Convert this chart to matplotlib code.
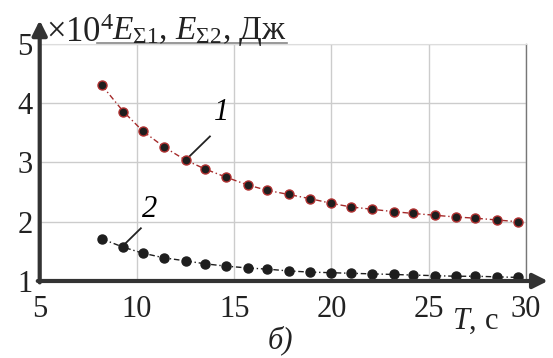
import numpy as np
import matplotlib.pyplot as plt

plt.rcParams['font.family'] = ['Liberation Serif', 'DejaVu Serif']
plt.rcParams['mathtext.fontset'] = 'custom'
plt.rcParams['mathtext.rm'] = 'Liberation Serif'
plt.rcParams['mathtext.it'] = 'Liberation Serif:italic'

# period T, s
T = [8.2, 9.3, 10.3, 11.4, 12.5, 13.5, 14.6, 15.7, 16.7, 17.8, 18.9,
     20.0, 21.0, 22.1, 23.2, 24.2, 25.3, 26.4, 27.4, 28.5, 29.6]
# energy, x 10^4 J
E1 = [4.30, 3.86, 3.53, 3.26, 3.04, 2.89, 2.75, 2.62, 2.53, 2.46, 2.39,
      2.31, 2.25, 2.21, 2.17, 2.14, 2.11, 2.08, 2.06, 2.03, 2.00]
E2 = [1.71, 1.57, 1.47, 1.39, 1.34, 1.29, 1.25, 1.22, 1.20, 1.17, 1.15,
      1.14, 1.13, 1.12, 1.11, 1.10, 1.09, 1.08, 1.08, 1.07, 1.06]
xticks = [5, 10, 15, 20, 25, 30]
yticks = [1, 2, 3, 4, 5]

fs = 22
fig = plt.figure(figsize=(5.53, 3.58), dpi=100)
ax = fig.add_axes([0.0718, 0.2151, 0.8794, 0.662])
ax.set_xlim(5, 30)
ax.set_ylim(1, 5)
ax.set_xticks(xticks)
ax.set_yticks(yticks)
ax.tick_params(length=0, labelsize=fs, colors='#222222')
ax.tick_params(axis='x', pad=10)
ax.tick_params(axis='y', pad=5)
ax.grid(color='#cccccc', lw=1)
ax.set_axisbelow(True)

for s in ['left', 'bottom']:
    ax.spines[s].set_visible(False)
ax.spines['top'].set_color('#dddddd')
ax.spines['right'].set_color('#777777')
ax.spines['right'].set_linewidth(1)

ax.plot(T, E1, color='#a52a2a', lw=1, ls=(0, (4, 2, 1, 2)),
        marker='o', ms=6.5, mfc='#1e1e1e', mec='#b03030', mew=1, zorder=3)
ax.plot(T, E2, color='#1e1e1e', lw=1, ls=(0, (4, 2, 1, 2)),
        marker='o', ms=6.5, mfc='#1e1e1e', mec='#1e1e1e', zorder=3)

# axes with arrows
arr = dict(arrowstyle='-|>', lw=3, color='#333333', mutation_scale=22,
           shrinkA=0, shrinkB=0)
ax.annotate('', xy=(1.045, 0), xytext=(-0.004, 0), xycoords='axes fraction',
            arrowprops=arr, annotation_clip=False)
ax.annotate('', xy=(0, 1.10), xytext=(0, -0.006), xycoords='axes fraction',
            arrowprops=arr, annotation_clip=False)

# curve labels
ax.plot([12.5, 13.75], [3.04, 3.44], color='#222222', lw=1.3)
ax.text(14.35, 3.85, '1', fontsize=fs, style='italic', ha='center', va='center')
ax.plot([9.3, 10.2], [1.60, 1.89], color='#222222', lw=1.3)
ax.text(10.67, 2.2, '2', fontsize=fs, style='italic', ha='center', va='center')

# top label
fig.text(46 / 553, 1 - 42 / 358, r'$\times10^4$', fontsize=25,
         color='#222222', va='baseline')
fig.text(112 / 553, 1 - 39 / 358,
         r'$E_{\mathit{\Sigma}1}$, $E_{\mathit{\Sigma}2}$, Дж',
         fontsize=24, color='#222222', va='baseline')
fig.add_artist(plt.Line2D([97 / 553, 287 / 553], [1 - 43 / 358, 1 - 43 / 358],
                          color='#888888', lw=1.2))

ax.text(27.38, -0.107, r'$T$, с', transform=ax.get_xaxis_transform(),
        fontsize=fs, ha='center', va='top', color='#222222')
fig.text(280 / 553, 1 - 340 / 358, 'б)', fontsize=fs, style='italic',
         ha='center', va='center', color='#222222')

plt.savefig('out.png', dpi=100)
